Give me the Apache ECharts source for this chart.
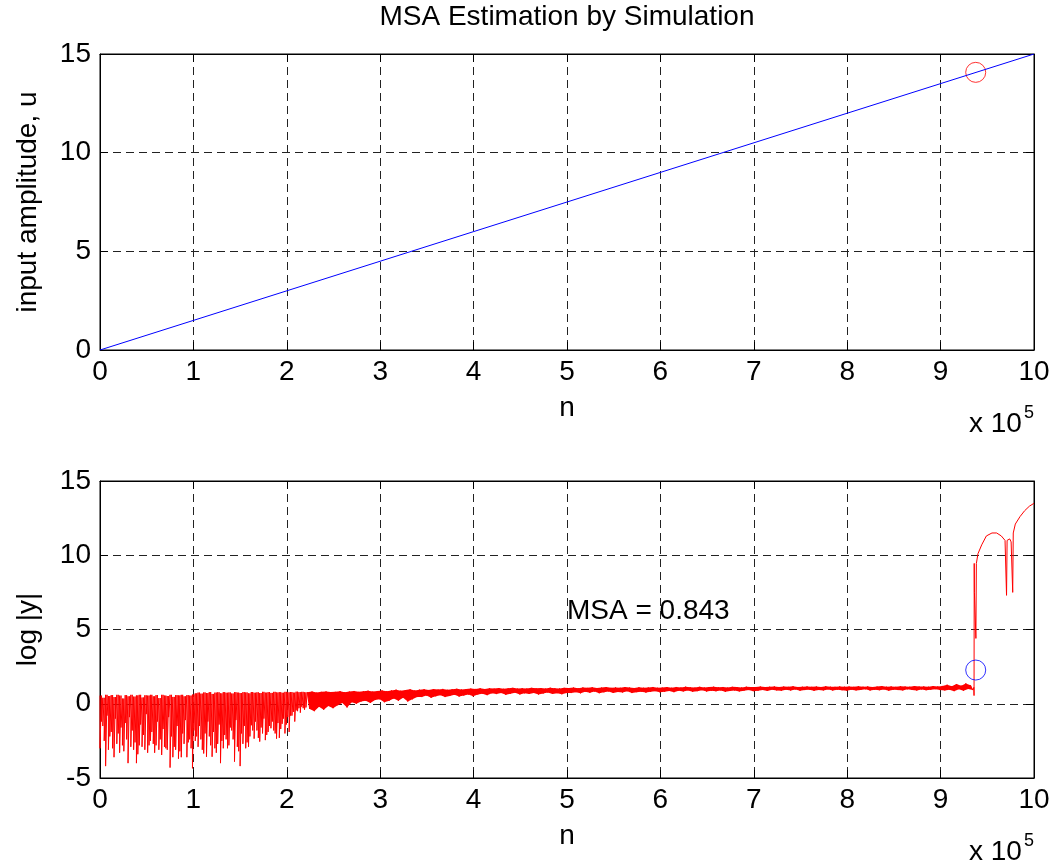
<!DOCTYPE html>
<html><head><meta charset="utf-8">
<script src="https://cdn.jsdelivr.net/npm/echarts@6/dist/echarts.min.js"></script>
<style>html,body{margin:0;padding:0;background:#fff}#chart{width:1050px;height:866px}</style>
</head><body><div id="chart"></div>
<script>
// ---------- data (n in units of 10^5) ----------
const nTickLabels = ['0','1','2','3','4','5','6','7','8','9','10'];
const uTickLabels = ['0','5','10','15'];
const yTickLabels = ['-5','0','5','10','15'];

// upper panel: input amplitude ramp
const inputN = [0, 10];
const inputU = [0, 15];
const msaPointTop = [[9.376, 14.07]];
const msaPointBottom = [[9.376, 2.27]];
const msaText = 'MSA = 0.843';
const msaTextPos = [5.0, 6.24];

// lower panel, part 1: deep dips, strokes every 0.03 from n = 0 (plus an in-between stroke)
const dipStart = 0.0, dipStep = 0.03;
const dipTop = [0.55,0.40,0.60,0.52,0.58,0.45,0.60,0.55,0.35,0.58,0.50,0.60,0.48,0.56,0.60,0.42,0.57,0.55,0.60,0.50,0.58,0.38,0.60,0.55,0.52,0.60,0.46,0.58,0.56,0.60,0.50,0.58,0.55,0.62,
  0.70,0.75,0.68,0.76,0.72,0.78,0.66,0.75,0.77,0.70,0.78,0.74,0.76,0.69,0.78,0.75,0.72,0.78,0.76,0.70,0.79,0.74,0.77,0.72,0.80,0.75,0.78,0.73,0.80,0.76,0.78,0.74,0.80,0.77,0.79,0.75,0.81,0.78,0.80,0.77];
const dipLow = [-3.0,-1.5,-4.2,-3.1,-1.9,-3.6,-2.7,-3.3,-2.8,-1.3,-4.0,-2.9,-3.1,-4.0,-2.8,-2.9,-3.1,-3.3,-2.5,-2.7,-2.8,-3.1,-3.45,-2.9,-3.1,-4.3,-3.6,-3.1,-3.7,-3.6,-2.7,-3.6,-2.4,-4.35,
  -2.5,-2.9,-2.4,-3.35,-3.57,-2.2,-3.57,-3.0,-2.7,-4.0,-3.0,-2.4,-2.8,-1.8,-3.9,-2.9,-4.2,-2.7,-3.0,-2.9,-1.45,-2.35,-1.8,-2.55,-2.0,-2.45,-1.9,-1.65,-1.8,-2.35,-2.3,-1.35,-2.0,-0.9,-0.8,-0.55,-0.45,-0.3,-0.2,-0.4];
const dipMid = [-1.2,-2.5,-0.8,-2.2,-3.0,-1.0,-2.0,-1.6,-3.2,-2.4,-0.9,-1.8,-2.6,-3.4,-1.4,-2.1,-0.7,-2.8,-1.9,-3.3,-1.2,-2.4,-1.7,-3.0,-0.9,-2.2,-2.9,-1.5,-3.2,-2.0,-1.1,-2.6,-3.0,-1.8,
  -2.2,-1.5,-3.1,-2.0,-1.2,-2.8,-1.9,-3.3,-1.4,-2.5,-2.1,-3.0,-1.6,-2.4,-1.1,-3.2,-2.0,-1.5,-2.6,-2.2,-1.8,-1.2,-2.3,-1.6,-1.0,-2.1,-1.5,-1.2,-2.0,-1.3,-1.7,-1.0,-1.4,-1.9,-0.8,-1.2,-0.5,-0.6,-0.3,-0.25];

// lower panel, part 2: narrow band, one high/low pair every 0.05 from n = 2.22
const bandStart = 2.22, bandStep = 0.05;
const bandHi = [0.78,0.82,0.75,0.80,0.83,0.79,
  0.80,0.85,0.78,0.82,0.86,0.80,
  0.84,0.88,0.82,0.86,0.90,0.85,
  0.90,0.95,0.88,0.92,0.97,0.90,
  0.95,0.98,0.93,0.99,0.96,1.00,0.94,0.98,1.01,0.96,0.99,1.02,
  1.00,1.04,0.99,1.05,1.02,1.06,1.01,1.04,1.07,1.02,1.05,1.03,1.07,1.04,1.06,1.02,1.08,1.05,1.03,1.07,
  1.06,1.09,1.05,1.10,1.07,1.11,1.06,1.09,1.12,1.07,1.10,1.08,1.12,1.09,1.06,1.11,1.08,1.10,1.13,1.08,
  1.09,1.12,1.08,1.13,1.10,1.15,1.11,1.09,1.14,1.10,1.12,1.15,1.11,1.13,1.09,1.14,1.12,1.10,1.15,1.12,
  1.13,1.16,1.12,1.15,1.17,1.13,1.16,1.14,1.18,1.13,1.15,1.17,1.14,1.16,1.13,1.18,1.15,1.14,1.17,1.15,
  1.16,1.14,1.18,1.15,1.17,1.13,1.16,1.19,1.15,1.17,1.14,1.18,1.16,1.15,1.19,1.16,1.17,1.15,1.19,1.17,
  1.20,1.28,1.18,1.33,1.22,1.37,1.25];
const bandLo = [-0.35,-0.50,-0.20,-0.40,-0.15,-0.30,
  -0.10,0.05,-0.25,0.10,0.00,0.15,
  0.20,0.05,0.25,0.30,0.10,0.20,
  0.35,0.20,0.40,0.15,0.30,0.45,
  0.45,0.55,0.40,0.50,0.58,0.45,0.52,0.60,0.48,0.55,0.62,0.50,
  0.62,0.68,0.58,0.70,0.65,0.72,0.60,0.68,0.74,0.63,0.70,0.66,0.73,0.62,0.69,0.75,0.66,0.71,0.64,0.72,
  0.72,0.78,0.70,0.80,0.74,0.82,0.71,0.77,0.83,0.73,0.79,0.76,0.84,0.72,0.78,0.81,0.75,0.80,0.85,0.77,
  0.80,0.86,0.78,0.88,0.83,0.90,0.81,0.85,0.91,0.82,0.87,0.84,0.90,0.80,0.86,0.89,0.83,0.88,0.92,0.85,
  0.88,0.93,0.86,0.95,0.90,0.87,0.94,0.89,0.96,0.88,0.92,0.95,0.87,0.93,0.90,0.96,0.89,0.94,0.91,0.88,
  0.95,0.90,0.93,0.97,0.89,0.94,0.91,0.96,0.88,0.95,0.92,0.90,0.97,0.93,0.89,0.96,0.91,0.94,0.98,0.92,
  0.90,0.95,0.85,0.98,0.88,1.00,0.92];

// lower panel, part 3: overload / blow-up at the end
const tailN = [9.356, 9.358, 9.360, 9.362, 9.376, 9.378, 9.383, 9.40, 9.44, 9.49, 9.55, 9.60, 9.65, 9.69, 9.702, 9.706, 9.712, 9.74, 9.755, 9.768, 9.772, 9.778, 9.80, 9.85, 9.90, 9.95, 10.0];
const tailY = [1.10, 0.55, 9.45, 7.5, 7.5, 4.4, 9.45, 10.1, 10.7, 11.3, 11.5, 11.5, 11.3, 11.0, 11.0, 7.3, 11.0, 11.1, 10.9, 11.0, 7.5, 11.5, 12.1, 12.6, 13.0, 13.3, 13.5];

// ---------- build series data ----------
const topLine = inputN.map((n, i) => [n, inputU[i]]);
const lowerSignal = [];
dipLow.forEach((v, i) => {
  const n = dipStart + i * dipStep;
  lowerSignal.push([n, dipTop[i]], [n, v], [n + dipStep / 2, dipTop[i]], [n + dipStep / 2, dipMid[i]]);
});
bandHi.forEach((v, k) => { const n = bandStart + k * bandStep; lowerSignal.push([n, v], [n + bandStep / 2, bandLo[k]]); });
tailN.forEach((n, i) => lowerSignal.push([n, tailY[i]]));

// ---------- chart ----------
const FONT = '"Liberation Sans", Arial, Helvetica, sans-serif';
const FS = 28;
const txt = { fontFamily: FONT, fontSize: FS, color: '#000' };
const GRIDLINE = { color: '#222', type: [8, 5], width: 1 };

function xAx(grid, pos, main) {
  return {
    type: 'value', gridIndex: grid, position: pos, min: 0, max: 10, interval: 1,
    name: main ? 'n' : '', nameLocation: 'middle', nameGap: 44, nameTextStyle: txt,
    axisLine: { show: true, onZero: false, lineStyle: { color: '#000', width: 1 } },
    axisTick: { show: true, inside: true, length: 8, lineStyle: { color: '#000' } },
    axisLabel: Object.assign({ show: main, margin: 8, formatter: v => nTickLabels[Math.round(v)] }, txt),
    splitLine: { show: main, lineStyle: GRIDLINE }
  };
}
function yAx(grid, pos, main, min, max, labels, name) {
  return {
    type: 'value', gridIndex: grid, position: pos, min: min, max: max, interval: 5,
    name: main ? name : '', nameLocation: 'middle', nameGap: 58, nameRotate: 90, nameTextStyle: txt,
    axisLine: { show: true, onZero: false, lineStyle: { color: '#000', width: 1 } },
    axisTick: { show: true, inside: true, length: 8, lineStyle: { color: '#000' } },
    axisLabel: Object.assign({ show: main, margin: 9, formatter: v => labels[Math.round((v - min) / 5)] }, txt),
    splitLine: { show: main, lineStyle: GRIDLINE }
  };
}

const chart = echarts.init(document.getElementById('chart'), null, { renderer: 'canvas' });
chart.setOption({
  animation: false,
  backgroundColor: '#fff',
  title: {
    text: 'MSA Estimation by Simulation', left: 567, top: 3, textAlign: 'center', padding: 0,
    textStyle: { fontFamily: FONT, fontSize: FS, fontWeight: 'normal', color: '#000' }
  },
  grid: [
    { left: 100, right: 16, top: 54, height: 296, show: true, borderColor: '#000', borderWidth: 1, backgroundColor: '#fff', outerBoundsMode: 'none', containLabel: false },
    { left: 100, right: 16, top: 481, height: 297, show: true, borderColor: '#000', borderWidth: 1, backgroundColor: '#fff', outerBoundsMode: 'none', containLabel: false }
  ],
  xAxis: [xAx(0, 'bottom', true), xAx(0, 'top', false), xAx(1, 'bottom', true), xAx(1, 'top', false)],
  yAxis: [
    yAx(0, 'left', true, 0, 15, uTickLabels, 'input amplitude, u'),
    yAx(0, 'right', false, 0, 15, uTickLabels, ''),
    yAx(1, 'left', true, -5, 15, yTickLabels, 'log |y|'),
    yAx(1, 'right', false, -5, 15, yTickLabels, '')
  ],
  series: [
    { type: 'line', xAxisIndex: 0, yAxisIndex: 0, data: topLine, showSymbol: false, symbol: 'none',
      lineStyle: { color: '#0000ff', width: 1 }, silent: true },
    { type: 'scatter', xAxisIndex: 0, yAxisIndex: 0, data: msaPointTop, symbol: 'circle', symbolSize: 20,
      itemStyle: { color: 'rgba(0,0,0,0)', borderColor: '#ff0000', borderWidth: 1 }, silent: true },
    { type: 'custom', xAxisIndex: 2, yAxisIndex: 2, data: [[bandStart, 0]], encode: { x: 0, y: 1 }, silent: true, clip: true,
      renderItem: (params, api) => {
        const pts = [];
        bandHi.forEach((v, k) => pts.push(api.coord([bandStart + k * bandStep, v])));
        for (let k = bandLo.length - 1; k >= 0; k--) pts.push(api.coord([bandStart + k * bandStep + bandStep / 2, bandLo[k]]));
        return { type: 'polygon', shape: { points: pts }, style: { fill: '#ff0000' } };
      } },
    { type: 'line', xAxisIndex: 2, yAxisIndex: 2, data: lowerSignal, showSymbol: false, symbol: 'none', sampling: null,
      lineStyle: { color: '#ff0000', width: 1 }, silent: true, clip: true },
    { type: 'scatter', xAxisIndex: 2, yAxisIndex: 2, data: msaPointBottom, symbol: 'circle', symbolSize: 20,
      itemStyle: { color: 'rgba(0,0,0,0)', borderColor: '#0000ff', borderWidth: 1 }, silent: true, z: 5 }
  ]
});

// texts placed through the axes' own scales
function place() {
  const p = chart.convertToPixel({ xAxisIndex: 2, yAxisIndex: 2 }, msaTextPos);
  const r0 = chart.convertToPixel({ xAxisIndex: 0 }, 10);
  const b0 = chart.convertToPixel({ yAxisIndex: 0 }, 0);
  const b1 = chart.convertToPixel({ yAxisIndex: 2 }, -5);
  const t = (x, y, s, f) => ({ type: 'text', x: x, y: y, z: 100,
    style: { text: s, font: f + 'px ' + FONT, fill: '#000', textAlign: 'left', textVerticalAlign: 'middle' } });
  chart.setOption({ graphic: [
    t(p[0], p[1], msaText, FS),
    t(r0 - 65, b0 + 74, 'x 10', FS), t(r0 - 10, b0 + 63, '5', 18),
    t(r0 - 65, b1 + 74, 'x 10', FS), t(r0 - 10, b1 + 63, '5', 18)
  ] });
}
place();
</script></body></html>
